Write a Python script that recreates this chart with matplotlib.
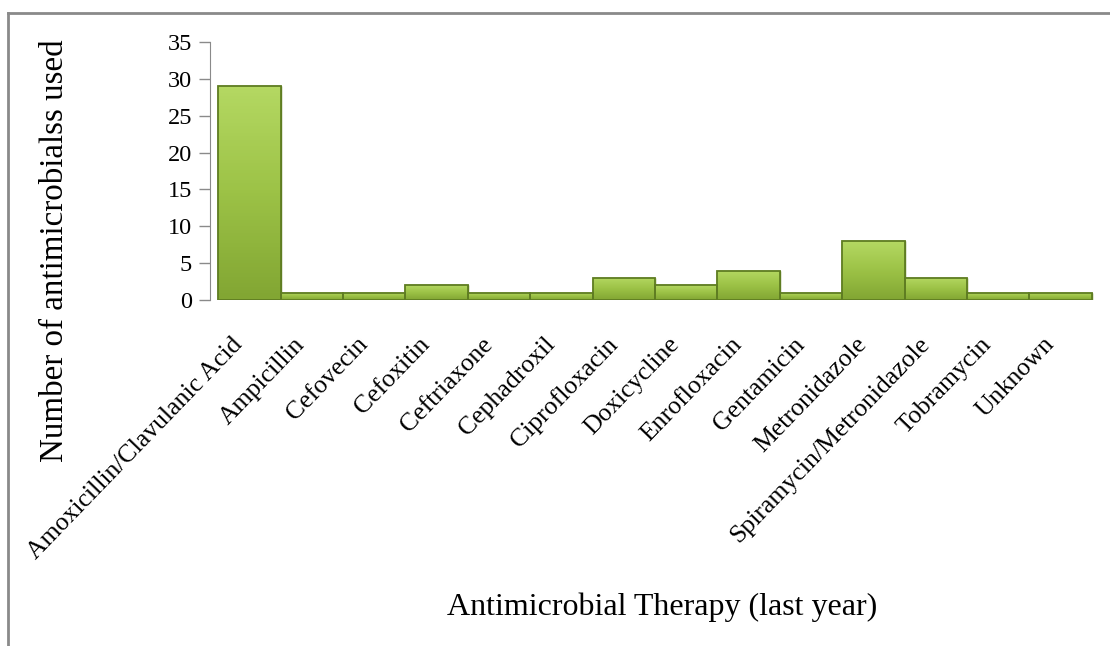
import matplotlib
matplotlib.use("Agg")
import matplotlib.pyplot as plt
from matplotlib.lines import Line2D
from matplotlib.colors import LinearSegmentedColormap
from matplotlib.transforms import ScaledTranslation
import numpy as np

plt.rcParams["font.family"] = ["Liberation Serif", "DejaVu Serif"]

drugs = ["Amoxicillin/Clavulanic Acid", "Ampicillin", "Cefovecin", "Cefoxitin",
         "Ceftriaxone", "Cephadroxil", "Ciprofloxacin", "Doxicycline",
         "Enrofloxacin", "Gentamicin", "Metronidazole",
         "Spiramycin/Metronidazole", "Tobramycin", "Unknown"]
counts = [29, 1, 1, 2, 1, 1, 3, 2, 4, 1, 8, 3, 1, 1]
yticks = [0, 5, 10, 15, 20, 25, 30, 35]

GREEN_TOP = "#b4d862"
GREEN_MID = "#9cc246"
GREEN_BOT = "#82a633"
EDGE = "#5f7d22"
GRAY = "#8a8a8a"

fig = plt.figure(figsize=(11.1, 6.46), dpi=100)
ax = fig.add_axes([210/1110, 1-300/646, (1095-210)/1110, (300-42)/646])

x = np.arange(len(drugs))
bars = ax.bar(x, counts, width=1.0, color=GREEN_MID, edgecolor=EDGE, lw=1.0, zorder=2)

# gentle vertical shading inside each bar
cm = LinearSegmentedColormap.from_list("g", [GREEN_BOT, GREEN_MID, GREEN_TOP])
grad = np.linspace(0, 1, 64).reshape(-1, 1)
for b in bars:
    x0, w, h = b.get_x(), b.get_width(), b.get_height()
    im = ax.imshow(grad, cmap=cm, aspect="auto", origin="lower",
                   extent=(x0, x0 + w, 0, h), zorder=2.5)
    im.set_clip_path(b)
    ax.add_patch(plt.Rectangle((x0, 0), w, h, fill=False, ec=EDGE, lw=1.3, zorder=3))

ax.set_xlim(-0.63, 13.55)
ax.set_ylim(0, 35)
ax.set_yticks(yticks)
ax.set_yticklabels([str(v) for v in yticks], fontsize=17.5)
ax.tick_params(axis="y", length=8, width=1, color=GRAY, pad=5)
ax.set_xticks(x)
ax.set_xticklabels(drugs, rotation=46, ha="right", rotation_mode="anchor", fontsize=18.5)
ax.tick_params(axis="x", length=0, pad=24)
for lbl in ax.get_xticklabels():
    lbl.set_transform(lbl.get_transform() + ScaledTranslation(-0.18, 0, fig.dpi_scale_trans))

for sp in ("top", "right", "bottom"):
    ax.spines[sp].set_visible(False)
ax.spines["left"].set_color(GRAY)

ax.set_ylabel("Number of antimicrobialss used", fontsize=23.8)
ax.yaxis.set_label_coords(-0.158, 0.19)
fig.text(662/1110, 1-607/646, "Antimicrobial Therapy (last year)", fontsize=23,
         ha="center", va="center")

# outer frame (left + top edges visible)
fig.add_artist(Line2D([8/1110, 8/1110], [0, 1-13/646], transform=fig.transFigure, color=GRAY, lw=2))
fig.add_artist(Line2D([8/1110, 1], [1-13/646, 1-13/646], transform=fig.transFigure, color=GRAY, lw=2))

fig.savefig("out.png", dpi=100)
